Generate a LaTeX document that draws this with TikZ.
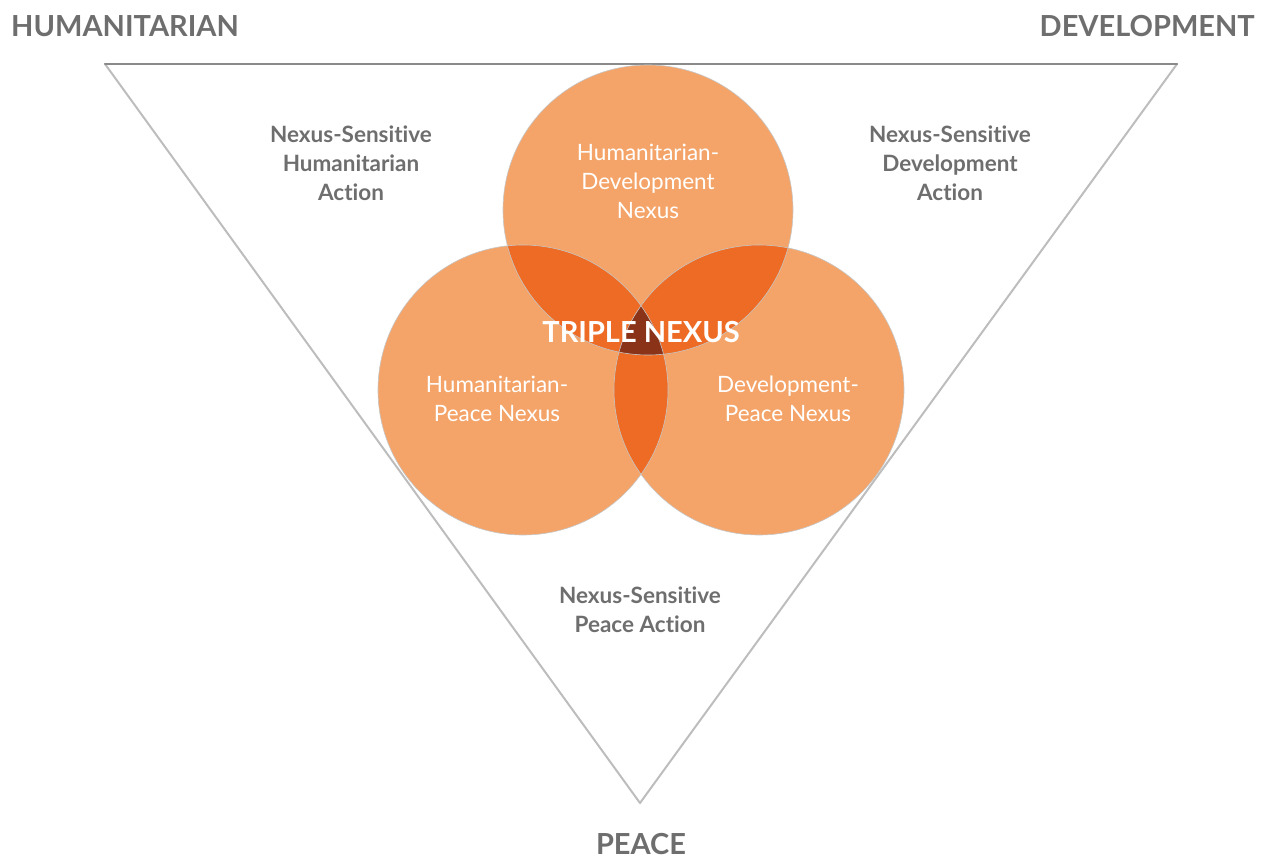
\documentclass[tikz,border=0pt]{standalone}
\usepackage{fontspec}
\setmainfont[Ligatures=NoCommon]{Lato}
\definecolor{lightor}{HTML}{F4A468}
\definecolor{midor}{HTML}{EE6B25}
\definecolor{darkor}{HTML}{8A3318}
\definecolor{labgray}{HTML}{6E6E6E}
\definecolor{topline}{HTML}{8A8A8A}
\definecolor{sideline}{HTML}{BDBDBD}
\begin{document}
\begin{tikzpicture}[x=1pt,y=-1pt,
  corner/.style={font=\fontsize{29}{32}\selectfont\bfseries, text=labgray, inner sep=0pt},
  action/.style={font=\fontsize{22.5}{29}\selectfont\bfseries, text=labgray, align=center, inner sep=0pt},
  nexus/.style={font=\fontsize{22.5}{29}\selectfont, text=white, align=center, inner sep=0pt},
  triple/.style={font=\fontsize{29}{32}\selectfont\bfseries, text=white, inner sep=0pt},
  edge/.style={line width=2pt, line cap=round, line join=round}]
\useasboundingbox (0,0) rectangle (1267,859);
% triangle
\coordinate (tl) at (105,64);
\coordinate (tr) at (1177,64);
\coordinate (bt) at (640,803);
\draw[edge, draw=sideline] (tl) -- (bt) -- (tr);
\draw[edge, draw=topline] (tl) -- (tr);
% circles
\coordinate (ct) at (648,210);
\coordinate (cl) at (523,390);
\coordinate (cr) at (759,390);
\def\rr{145}
\fill[lightor] (ct) circle (\rr);
\fill[lightor] (cl) circle (\rr);
\fill[lightor] (cr) circle (\rr);
\begin{scope}
  \clip (ct) circle (\rr);
  \fill[midor] (cl) circle (\rr);
  \fill[midor] (cr) circle (\rr);
\end{scope}
\begin{scope}
  \clip (cl) circle (\rr);
  \fill[midor] (cr) circle (\rr);
\end{scope}
\begin{scope}
  \clip (ct) circle (\rr);
  \clip (cl) circle (\rr);
  \fill[darkor] (cr) circle (\rr);
\end{scope}
\draw[gray!45, line width=0.6pt] (ct) circle (\rr);
\draw[gray!45, line width=0.6pt] (cl) circle (\rr);
\draw[gray!45, line width=0.6pt] (cr) circle (\rr);
% corner labels
\node[corner, anchor=west] (hum) at (11,26) {HUMANITARIAN};
\node[corner, anchor=east] (dev) at (1255,26) {DEVELOPMENT};
\node[corner] (pea) at (641,844) {PEACE};
% action labels
\node[action] (nsh) at (351,163) {Nexus-Sensitive\\Humanitarian\\Action};
\node[action] (nsd) at (950,163) {Nexus-Sensitive\\Development\\Action};
\node[action] (nsp) at (640,610) {Nexus-Sensitive\\Peace Action};
% circle labels
\node[nexus] (hd) at (648,181) {Humanitarian-\\Development\\Nexus};
\node[nexus] (hp) at (497,399) {Humanitarian-\\Peace Nexus};
\node[nexus] (dp) at (788,399) {Development-\\Peace Nexus};
\node[triple] (tn) at (641,332) {TRIPLE NEXUS};
\end{tikzpicture}
\end{document}
